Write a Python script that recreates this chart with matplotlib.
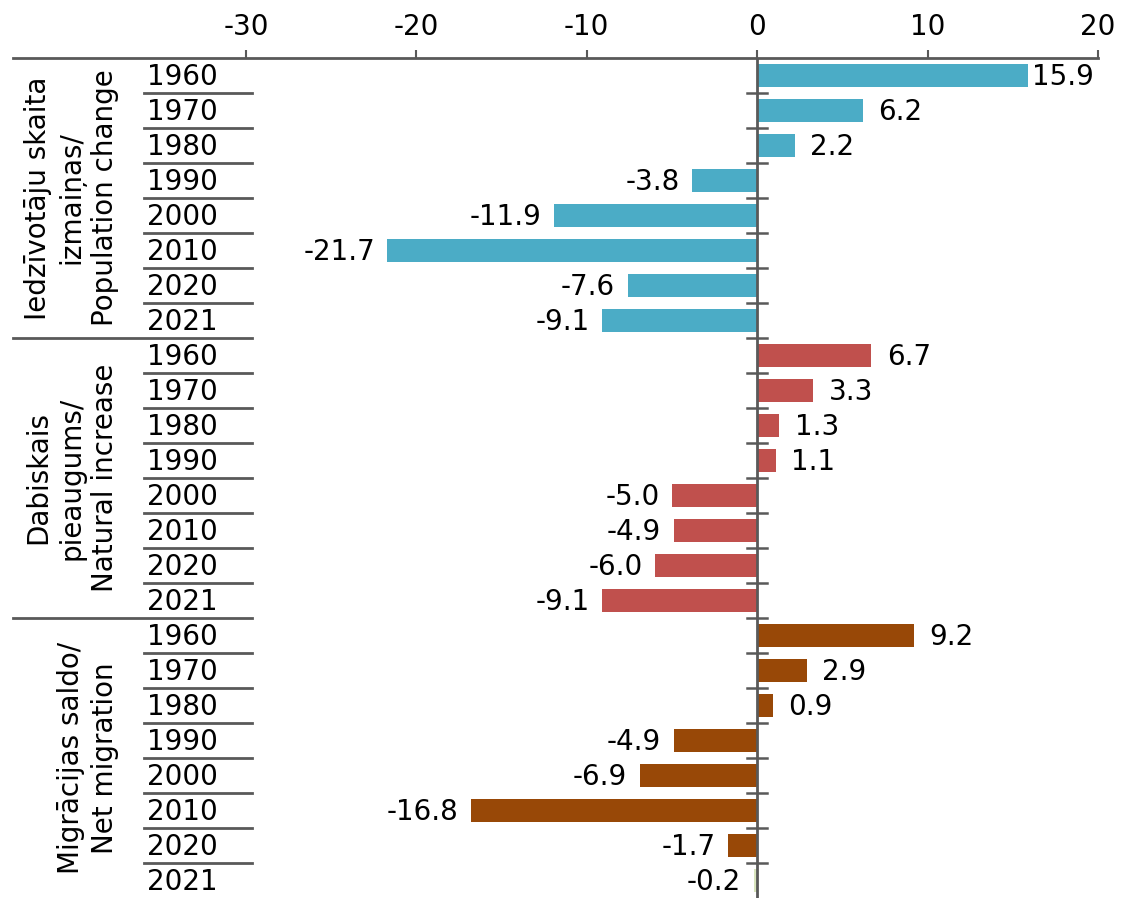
import matplotlib.pyplot as plt
import numpy as np

plt.rcParams['font.family'] = ['DejaVu Sans']
plt.rcParams['axes.unicode_minus'] = False

years = ['1960', '1970', '1980', '1990', '2000', '2010', '2020', '2021']
groups = ['Iedzīvotāju skaita\nizmaiņas/\nPopulation change',
          'Dabiskais\npieaugums/\nNatural increase',
          'Migrācijas saldo/\nNet migration']
pop_change = [15.9, 6.2, 2.2, -3.8, -11.9, -21.7, -7.6, -9.1]
natural = [6.7, 3.3, 1.3, 1.1, -5.0, -4.9, -6.0, -9.1]
migration = [9.2, 2.9, 0.9, -4.9, -6.9, -16.8, -1.7, -0.2]
colors = ['#4bacc6', '#c0504d', '#984807']

W, H = 1124, 899
fig = plt.figure(figsize=(W / 100, H / 100), dpi=100)
# axes spans from the far left label column to the 20 tick
ax = fig.add_axes([13 / W, 1 / H, (1098 - 13) / W, (898 - 58) / H])

x_left = -30 - (246 - 13) / 17.04
ax.set_xlim(x_left, 20)
n = len(years) * len(groups)
ax.set_ylim(n - 0.5, -0.5)

line_c = '#595959'
fs = 20

series = [pop_change, natural, migration]
for g, vals in enumerate(series):
    for i, v in enumerate(vals):
        row = g * len(years) + i
        c = colors[g]
        if g == 2 and i == len(vals) - 1:
            c = '#d8e4bc'
        ax.barh(row, v, height=0.66, color=c, zorder=2)
        if v >= 0:
            off = 11 if v < 15 else 3  # label squeezed near the right edge
            ax.annotate(f'{v:.1f}', (v, row + 0.05), xytext=(off, 0), textcoords='offset points',
                        ha='left', va='center', fontsize=fs)
        else:
            ax.annotate(f'{v:.1f}', (v, row + 0.05), xytext=(-9, 0), textcoords='offset points',
                        ha='right', va='center', fontsize=fs)

# zero line and its small ticks
ax.axvline(0, color=line_c, lw=2, zorder=3)
for k in range(n - 1):
    ax.plot([-0.6, 0.6], [k + 0.5, k + 0.5], color=line_c, lw=1.8, zorder=3)

# category table on the left
tr = ax.get_yaxis_transform()
for k in range(n):
    ax.text(0.1235, k + 0.05, years[k % len(years)], transform=tr, ha='left', va='center', fontsize=fs)
for k in range(n - 1):
    if (k + 1) % len(years) == 0:
        ax.plot([0.0, 0.2203], [k + 0.5, k + 0.5], transform=tr, color=line_c, lw=2, clip_on=False)
    else:
        ax.plot([0.1207, 0.2203], [k + 0.5, k + 0.5], transform=tr, color=line_c, lw=2, clip_on=False)

for g, name in enumerate(groups):
    yc = g * len(years) + (len(years) - 1) / 2
    ax.text(0.0975, yc, name, transform=tr, rotation=90, ha='right', va='center',
            multialignment='center', fontsize=fs, linespacing=1.25)

# top axis
ax.xaxis.tick_top()
ax.set_xticks([-30, -20, -10, 0, 10, 20])
ax.tick_params(axis='x', direction='out', length=6, width=1.5, color=line_c,
               labelsize=fs, pad=6)
ax.set_yticks([])
for s in ['left', 'right', 'bottom']:
    ax.spines[s].set_visible(False)
ax.spines['top'].set_color(line_c)
ax.spines['top'].set_linewidth(2)

fig.savefig('out.png', dpi=100)
